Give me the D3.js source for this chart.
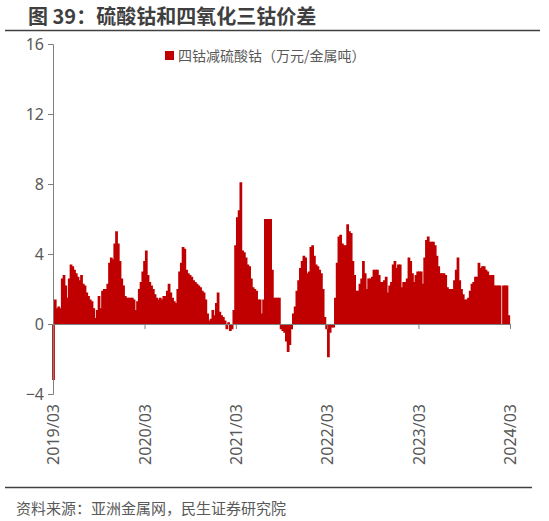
<!DOCTYPE html>
<html><head><meta charset="utf-8">
<script src="https://cdn.jsdelivr.net/npm/d3@7"></script>
<style>
body{margin:0;background:#fff;}
svg{display:block;font-family:"Noto Sans CJK SC","Noto Sans",sans-serif;}
</style></head><body>
<svg id="c" width="549" height="521"></svg>
<script>
const title = "图 39：硫酸钴和四氧化三钴价差";
const legendLabel = "四钴减硫酸钴（万元/金属吨）";
const source = "资料来源：亚洲金属网，民生证券研究院";
const startDate = "2019-03-01";
const yTicks = [-4, 0, 4, 8, 12, 16];
const xTickLabels = ["2019/03","2020/03","2021/03","2022/03","2023/03","2024/03"];
// weekly spread, 万元/金属吨
const values = [
-3.2,1.4,0.9,1.0,0.9,2.6,2.8,2.2,1.5,2.6,
3.4,3.3,3.1,2.9,2.7,2.5,2.8,2.3,2.2,1.8,
1.6,1.4,1.3,0.9,0.35,0.8,1.6,0.9,1.9,2.0,
2.0,2.3,3.5,3.8,3.7,4.6,5.3,4.6,3.6,2.6,
2.2,1.6,1.5,1.5,1.5,1.5,1.4,0.8,1.3,2.0,
2.4,3.0,3.6,4.2,2.8,2.4,2.2,2.0,1.7,1.5,
1.4,1.5,1.4,1.6,1.6,1.9,2.3,1.8,1.5,1.3,
1.2,2.0,3.0,3.5,4.4,4.3,3.1,2.9,2.8,2.7,
2.5,2.4,2.3,2.2,2.1,1.9,1.8,1.4,0.6,0.2,
0.3,0.8,0.5,1.2,1.8,0.7,0.5,0.4,0.2,-0.3,
0.1,-0.4,-0.3,0.8,4.5,6.1,6.5,8.1,4.2,4.1,
3.8,3.4,3.3,2.6,2.1,2.0,1.9,1.4,1.4,0.6,
1.4,6.0,6.0,6.0,6.0,3.1,1.5,1.5,1.5,1.5,
-0.3,-0.4,-0.5,-1.0,-1.6,-1.2,-0.3,0.6,1.0,1.9,
2.5,3.2,3.6,3.9,3.8,2.9,3.0,4.4,4.5,3.9,
3.4,3.3,3.1,2.9,2.0,0.4,-0.3,-1.9,-0.5,-0.2,
-0.2,1.5,3.5,5.0,5.1,4.6,4.5,4.5,5.7,5.3,
5.2,3.6,2.8,1.9,1.9,2.3,2.6,3.6,2.9,2.0,
2.6,2.6,2.7,3.1,3.1,3.1,2.8,2.4,2.4,2.5,
2.7,1.8,2.2,2.4,3.4,3.6,3.2,3.4,3.4,2.1,
2.4,2.4,2.6,3.8,3.6,2.9,2.4,2.8,3.0,3.0,
3.0,2.3,3.8,4.8,5.0,4.7,4.7,4.7,4.5,3.9,
3.3,2.9,2.9,2.9,2.8,2.1,2.0,2.0,2.0,2.5,
3.1,3.8,2.5,2.0,1.7,1.4,1.4,1.5,1.9,2.3,
2.4,2.7,2.7,3.5,3.2,3.3,3.3,3.1,3.0,2.8,
2.8,2.8,2.2,2.2,2.2,2.2,0,2.2,2.2,2.2,
0.5
];

const svg = d3.select("#c");
const parse = d3.timeParse("%Y-%m-%d");
const t0 = parse(startDate);
const data = values.map((v,i)=>({date:d3.timeDay.offset(t0, 7*i), v}));
const tickDates = xTickLabels.map(s=>d3.timeParse("%Y/%m")(s));

const x = d3.scaleTime().domain([tickDates[0], tickDates[tickDates.length-1]]).range([53,510]);
const y = d3.scaleLinear().domain([-4,16]).range([394,44]);
const grey = "#595959";

// title
svg.append("text").attr("x",28).attr("y",24).attr("font-size",20).attr("font-weight","bold")
  .attr("fill","#3f3f3f").text(title);
svg.append("line").attr("x1",5).attr("x2",540).attr("y1",30.5).attr("y2",30.5)
  .attr("stroke","#404040").attr("stroke-width",1.3);

// bars
const step = x(d3.timeDay.offset(t0,7)) - x(t0);
svg.append("g").selectAll("rect").data(data).join("rect")
  .attr("x", d=>x(d.date)-step/2)
  .attr("width", d=>d.v===0?0:step+1)
  .attr("y", d=>y(Math.max(0,d.v)))
  .attr("height", d=>Math.abs(y(d.v)-y(0)))
  .attr("fill","#C00000");

// y axis
const ya = svg.append("g").attr("transform","translate(53,0)")
  .call(d3.axisLeft(y).tickValues(yTicks).tickSize(5).tickSizeOuter(5).tickPadding(4));
ya.select(".domain").attr("stroke","#7f7f7f");
ya.selectAll(".tick line").attr("stroke","#7f7f7f");
ya.selectAll(".tick text").attr("font-size",16).attr("fill",grey).attr("font-family","'Noto Sans',sans-serif");

// x axis at zero
const xa = svg.append("g").attr("transform",`translate(0,${y(0)})`)
  .call(d3.axisBottom(x).tickValues(tickDates).tickSize(5).tickSizeOuter(0).tickFormat(""));
xa.select(".domain").attr("stroke","#7f7f7f");
xa.selectAll(".tick line").attr("stroke","#7f7f7f");

// x labels
const xl = svg.append("g").attr("transform","translate(0,404)")
  .call(d3.axisBottom(x).tickValues(tickDates).tickSize(0).tickFormat((d,i)=>xTickLabels[i]));
xl.select(".domain").remove();
xl.selectAll(".tick text").attr("transform","rotate(-90)").attr("text-anchor","end")
  .attr("x",0).attr("y",0).attr("dy","0.35em").attr("font-size",16).attr("fill",grey)
  .attr("font-family","'Noto Sans',sans-serif");

// legend
svg.append("rect").attr("x",165).attr("y",51).attr("width",9).attr("height",9).attr("fill","#C00000");
svg.append("text").attr("x",178).attr("y",61).attr("font-size",14).attr("fill",grey).text(legendLabel);

// bottom
svg.append("line").attr("x1",5).attr("x2",532).attr("y1",487.5).attr("y2",487.5)
  .attr("stroke","#404040").attr("stroke-width",1.3);
svg.append("text").attr("x",16).attr("y",514).attr("font-size",15).attr("fill",grey).text(source);
</script></body></html>
